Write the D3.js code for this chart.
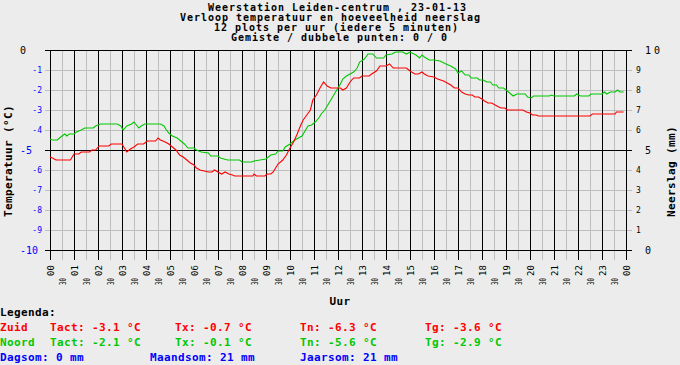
<!DOCTYPE html>
<html><head><meta charset="utf-8">
<script src="https://cdn.jsdelivr.net/npm/d3@7"></script>
<style>
html,body{margin:0;padding:0;background:#ececec;}
svg{display:block;}
text{font-family:"DejaVu Sans Mono",monospace;}
</style></head><body>
<svg id="c" width="680" height="365"></svg>
<script>
const titleLines = [
  "Weerstation Leiden-centrum , 23-01-13",
  "Verloop temperatuur en hoeveelheid neerslag",
  "12 plots per uur (iedere 5 minuten)",
  "Gemiste / dubbele punten: 0 / 0"
];
const hourLabels = ["00","01","02","03","04","05","06","07","08","09","10","11","12","13","14","15","16","17","18","19","20","21","22","23","00"];
const halfLabel = "30";
const tempTicks = [0,-1,-2,-3,-4,-5,-6,-7,-8,-9,-10];
const rainTicks = [10,9,8,7,6,5,4,3,2,1,0];

// Zuid (red): time in hours, temperature in °C
const zuidTimes = [0,0.1,0.25,0.85,0.95,1.0,1.2,1.3,1.65,1.75,1.9,2.05,2.45,2.55,3.0,3.1,3.2,3.35,3.5,3.65,3.9,4.05,4.4,4.5,4.6,4.8,4.95,5.1,5.25,5.4,5.55,5.7,5.85,6.0,6.1,6.25,6.6,6.75,6.85,7.0,7.15,7.3,7.45,7.6,7.7,8.45,8.5,8.6,8.95,9.05,9.2,9.3,9.4,9.5,9.7,9.85,10.0,10.15,10.3,10.45,10.55,10.7,10.85,10.95,11.1,11.25,11.4,11.55,11.7,11.95,12.1,12.2,12.35,12.5,12.65,12.9,13.0,13.3,13.4,13.6,13.75,14.0,14.15,14.3,14.45,14.85,15.0,15.2,15.35,15.5,15.6,15.75,16.0,16.15,16.4,16.55,16.7,16.85,17.0,17.15,17.3,17.45,17.6,17.7,17.85,18.0,18.1,18.25,18.4,18.55,18.7,18.8,18.95,19.05,19.7,19.85,20.0,20.1,20.25,20.35,22.5,22.6,23.55,23.6,23.9];
const zuidTemps = [-5.35,-5.4,-5.5,-5.5,-5.3,-5.2,-5.2,-5.1,-5.1,-5.0,-5.0,-4.8,-4.8,-4.7,-4.7,-4.9,-5.1,-4.95,-4.85,-4.7,-4.7,-4.55,-4.55,-4.4,-4.5,-4.6,-4.7,-4.85,-5.0,-5.25,-5.35,-5.5,-5.65,-5.75,-5.9,-6.0,-6.1,-6.1,-6.0,-6.1,-6.2,-6.1,-6.2,-6.25,-6.3,-6.3,-6.2,-6.3,-6.3,-6.2,-6.2,-6.1,-5.9,-5.7,-5.5,-5.25,-4.9,-4.6,-4.2,-3.75,-3.5,-3.25,-3.0,-2.5,-2.25,-1.9,-1.6,-1.8,-1.9,-1.9,-1.9,-2.0,-1.9,-1.6,-1.4,-1.4,-1.3,-1.3,-1.2,-1.05,-0.8,-0.8,-0.7,-0.9,-0.9,-0.9,-1.05,-1.2,-1.2,-1.1,-1.2,-1.3,-1.35,-1.45,-1.55,-1.65,-1.75,-1.9,-1.9,-2.1,-2.2,-2.25,-2.25,-2.35,-2.35,-2.45,-2.55,-2.65,-2.65,-2.75,-2.85,-2.9,-2.9,-3.0,-3.0,-3.1,-3.15,-3.25,-3.25,-3.3,-3.3,-3.2,-3.2,-3.1,-3.1];

// Noord (green)
const noordTimes = [0,0.1,0.3,0.4,0.5,0.62,0.7,0.8,1.0,1.1,1.3,1.45,1.8,1.9,2.1,2.8,2.95,3.05,3.2,3.4,3.5,3.6,3.7,3.8,3.95,4.6,4.75,4.85,4.95,5.1,5.3,5.45,5.6,5.75,6.0,6.1,6.3,6.6,6.7,7.0,7.1,7.4,7.9,8.0,8.4,8.5,8.75,9.0,9.2,9.4,9.5,9.7,9.8,10.0,10.2,10.5,10.6,10.75,10.9,11.05,11.2,11.3,11.45,11.55,11.65,11.8,11.95,12.1,12.2,12.35,12.5,12.65,12.8,12.9,13.1,13.25,13.45,13.6,13.9,14.0,14.25,14.4,14.7,14.85,15.0,15.25,15.4,15.5,15.6,15.8,16.0,16.25,16.5,16.7,16.9,17.0,17.15,17.3,17.45,17.55,17.8,17.9,18.05,18.2,18.35,18.45,18.6,18.7,18.9,19.0,19.15,19.3,19.45,19.8,19.9,20.05,20.15,20.8,20.9,21.0,21.85,21.95,22.1,22.45,22.55,23.0,23.1,23.2,23.35,23.55,23.65,23.75,23.9];
const noordTemps = [-4.45,-4.5,-4.5,-4.4,-4.3,-4.2,-4.3,-4.2,-4.2,-4.1,-4.0,-3.9,-3.9,-3.8,-3.7,-3.7,-3.8,-4.0,-3.8,-3.7,-3.6,-3.75,-3.9,-3.8,-3.7,-3.7,-3.8,-4.0,-4.15,-4.3,-4.4,-4.55,-4.7,-4.9,-4.9,-5.0,-5.1,-5.15,-5.3,-5.3,-5.4,-5.5,-5.5,-5.6,-5.6,-5.55,-5.5,-5.45,-5.25,-5.2,-5.05,-5.05,-4.85,-4.7,-4.5,-4.3,-4.1,-3.8,-3.75,-3.6,-3.4,-3.2,-3.0,-2.8,-2.6,-2.3,-2.0,-1.7,-1.45,-1.3,-1.2,-1.1,-0.9,-0.6,-0.45,-0.2,-0.2,-0.4,-0.4,-0.25,-0.2,-0.1,-0.1,-0.2,-0.1,-0.25,-0.4,-0.25,-0.35,-0.5,-0.5,-0.55,-0.7,-0.8,-0.95,-1.15,-1.05,-1.25,-1.25,-1.4,-1.4,-1.5,-1.5,-1.6,-1.6,-1.75,-1.75,-1.9,-1.9,-2.0,-2.15,-2.3,-2.2,-2.2,-2.35,-2.4,-2.3,-2.3,-2.25,-2.3,-2.3,-2.2,-2.3,-2.3,-2.2,-2.2,-2.1,-2.2,-2.1,-2.1,-2.0,-2.1,-2.1];

const legendRows = [
  {name:"Zuid",  color:"#ff0000", tact:"-3.1", tx:"-0.7", tn:"-6.3", tg:"-3.6"},
  {name:"Noord", color:"#00c800", tact:"-2.1", tx:"-0.1", tn:"-5.6", tg:"-2.9"}
];
const sums = [["Dagsom","0"],["Maandsom","21"],["Jaarsom","21"]];

const svg = d3.select("#c");
const x = d3.scaleLinear().domain([0,24]).range([50,626]);
const yT = d3.scaleLinear().domain([0,-10]).range([50,250]);
const yR = d3.scaleLinear().domain([0,10]).range([250,50]);
const px = v => Math.round(v) + 0.5;
const BOLD = {"font-weight":"bold","font-size":"11px","letter-spacing":"0.38px"};
const TITLE = {"font-weight":"bold","font-size":"10px","letter-spacing":"0.98px"};
function applyAttrs(sel, o){ for (const k in o) sel.attr(k,o[k]); return sel; }

svg.append("rect").attr("width",680).attr("height",365).attr("fill","#ececec");

// title
const titleX = [208,180,214,231];
titleLines.forEach((t,i)=>{
  applyAttrs(svg.append("text").attr("x",titleX[i]).attr("y",10.5+i*10).text(t), TITLE).attr("fill","#000");
});

// grid
const g = svg.append("g").attr("shape-rendering","crispEdges");
const halfHours = d3.range(0,48.5,1).map(i=>i/2);
g.selectAll("line.vg").data(halfHours.filter(h=>h%1!==0)).join("line")
  .attr("x1",d=>px(x(d))).attr("x2",d=>px(x(d))).attr("y1",50).attr("y2",260)
  .attr("stroke","#bebebe");
g.selectAll("line.hg").data(tempTicks.filter(t=>t%5!==0)).join("line")
  .attr("x1",45).attr("x2",632).attr("y1",d=>px(yT(d))).attr("y2",d=>px(yT(d)))
  .attr("stroke","#bebebe");
g.selectAll("line.vb").data(halfHours.filter(h=>h%1===0)).join("line")
  .attr("x1",d=>px(x(d))).attr("x2",d=>px(x(d))).attr("y1",50).attr("y2",260)
  .attr("stroke","#000");
g.selectAll("line.hb").data(tempTicks.filter(t=>t%5===0)).join("line")
  .attr("x1",45).attr("x2",632).attr("y1",d=>px(yT(d))).attr("y2",d=>px(yT(d)))
  .attr("stroke","#000");

// left axis labels
tempTicks.forEach(t=>{
  const major = t%5===0;
  svg.append("text")
    .attr("x", major?20:42).attr("y", yT(t)+ (major?4:3))
    .attr("text-anchor", major?"start":"end")
    .attr("font-size", major?"10px":"8px")
    .attr("fill", t===0?"#000":"#0000ff")
    .text(t);
});
// right axis labels
rainTicks.forEach(r=>{
  const major = r%5===0;
  svg.append("text")
    .attr("x", major?645:636).attr("y", yR(r)+(major?4:3))
    .attr("font-size", major?"10px":"8px")
    .attr("letter-spacing", r===10?"3px":"0px")
    .attr("fill","#000")
    .text(r);
});

// x labels
hourLabels.forEach((l,i)=>{
  svg.append("text").attr("transform",`translate(${x(i)+3.5},276) rotate(-90)`)
    .attr("font-size","9px").attr("fill","#000").text(l);
  if (i<24) {
    svg.append("text").attr("transform",`translate(${x(i+0.5)+3.5},285) rotate(-90)`)
      .attr("font-size","9px").attr("textLength",7).attr("lengthAdjust","spacingAndGlyphs")
      .attr("fill","#000").text(halfLabel);
  }
});

// axis titles
applyAttrs(svg.append("text").attr("transform","translate(11.5,217) rotate(-90)").text("Temperatuur (°C)"), BOLD);
applyAttrs(svg.append("text").attr("transform","translate(675,217) rotate(-90)").text("Neerslag (mm)"), BOLD);
applyAttrs(svg.append("text").attr("x",329.5).attr("y",305).text("Uur"), BOLD);

// series lines
const line = d3.line().x(d=>x(d[0])).y(d=>yT(d[1]));
const zuid = zuidTimes.map((t,i)=>[t,zuidTemps[i]]);
const noord = noordTimes.map((t,i)=>[t,noordTemps[i]]);
svg.append("path").datum(noord).attr("d",line).attr("fill","none").attr("stroke","#00c800").attr("stroke-width",1.1);
svg.append("path").datum(zuid).attr("d",line).attr("fill","none").attr("stroke","#ff0000").attr("stroke-width",1.1);

// legend
applyAttrs(svg.append("text").attr("x",0).attr("y",315.5).text("Legenda:"), BOLD).attr("fill","#000");
legendRows.forEach((r,i)=>{
  const y = 331 + i*15;
  const row = [[0,r.name],[50,`Tact: ${r.tact} °C`],[175,`Tx: ${r.tx} °C`],[300,`Tn: ${r.tn} °C`],[425,`Tg: ${r.tg} °C`]];
  row.forEach(([xx,t])=>{
    applyAttrs(svg.append("text").attr("x",xx).attr("y",y).attr("xml:space","preserve").text(t), BOLD).attr("fill",r.color);
  });
});
[0,150,300].forEach((xx,i)=>{
  applyAttrs(svg.append("text").attr("x",xx).attr("y",361).text(`${sums[i][0]}: ${sums[i][1]} mm`), BOLD).attr("fill","#0000ff");
});
</script>
</body></html>
